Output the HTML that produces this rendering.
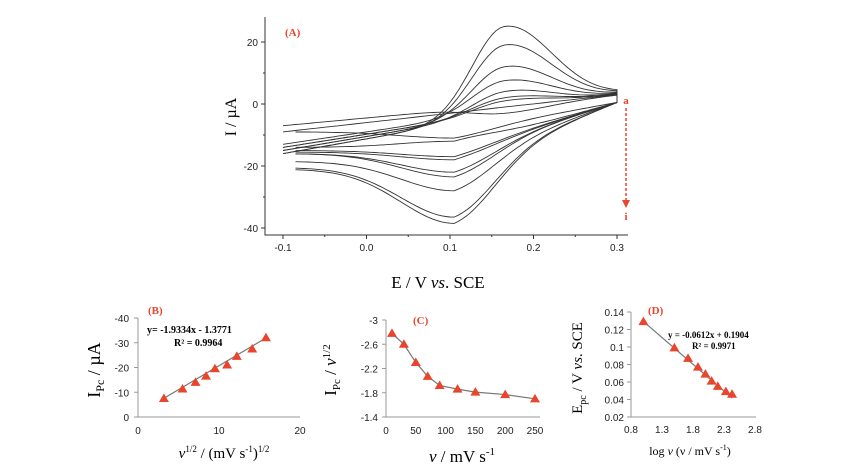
<!DOCTYPE html>
<html><head><meta charset="utf-8">
<style>
body{margin:0;background:#fff;}
svg{display:block;font-family:"Liberation Sans",sans-serif;}
.tk{font-size:10px;fill:#222;}
.ser{font-family:"Liberation Serif",serif;}
.lab{font-family:"Liberation Serif",serif;fill:#e8452c;font-weight:bold;font-size:11px;}
</style></head><body>
<svg id="fig" width="868" height="472" viewBox="0 0 868 472">
<g id="panelA"></g>
<g id="panelB"></g>
<g id="panelC"></g>
<g id="panelD"></g>
</svg>
<script>
// Panel A data (9 CVs, a..i)
var cvAnodicPeak=[25,19,12,7.5,4,2,1,-1,-3];
var cvCathodicPeak=[-38.5,-36.5,-28,-23.5,-22,-18,-17,-12,-11];
var cvUpperStart=[-16,-16,-15,-13,-15,-14,-14,-9,-7];
var cvLowerStart=[-21,-20.5,-18.5,-16,-16,-15.5,-15,-14,-9];
var aXTicks=[-0.1,0.0,0.1,0.2,0.3];
var aYTicks=[20,0,-20,-40];
// Panel B
var bX=[3.2,5.5,7.1,8.4,9.5,11,12.2,14.1,15.8];
var bY=[7.5,11.3,14,16.5,19.5,21,24.5,27.5,32];
var bXTicks=[0,10,20]; var bYTicks=[0,10,20,30,40];
// Panel C
var cX=[10,30,50,70,90,120,150,200,250];
var cY=[-2.78,-2.6,-2.3,-2.07,-1.92,-1.86,-1.81,-1.77,-1.7];
var cXTicks=[0,50,100,150,200,250]; var cYTicks=[-3,-2.6,-2.2,-1.8,-1.4];
// Panel D
var dX=[1.0,1.5,1.72,1.88,2.0,2.1,2.2,2.33,2.43];
var dY=[0.129,0.099,0.087,0.077,0.069,0.061,0.055,0.049,0.046];
var dXTicks=[0.8,1.3,1.8,2.3,2.8]; var dYTicks=[0.02,0.04,0.06,0.08,0.1,0.12,0.14];

var NS="http://www.w3.org/2000/svg";
function mk(p,t,a,txt){var e=document.createElementNS(NS,t);for(var k in a){e.setAttribute(k,String(a[k]));}if(txt!==undefined){e.textContent=String(txt);}p.appendChild(e);return e;}
function lin(d0,d1,r0,r1){return function(v){return r0+(v-d0)/(d1-d0)*(r1-r0);};}
function rich(p,a,parts){var t=mk(p,'text',a);for(var i=0;i<parts.length;i++){mk(t,'tspan',parts[i][1]||{},parts[i][0]);}return t;}
function tri(g,cx,cy){var p=mk(g,'path',{d:'M'+cx+','+(cy-5)+'L'+(cx+5)+','+(cy+3.5)+'L'+(cx-5)+','+(cy+3.5)+'Z',fill:'#e8452c'});
 
 }
function axes(g,l,b,r,t){mk(g,'path',{d:'M'+l+','+t+'V'+b+'H'+r,fill:'none',stroke:'#999','stroke-width':1});}

// ---------- Panel A ----------
try{(function(){
var g=document.getElementById('panelA');
var x=lin(-0.1,0.3,283,617), y=lin(0,20,104,42);
mk(g,'path',{d:'M265,17V235H628',fill:'none',stroke:'#333','stroke-width':1});
aXTicks.forEach(function(v){mk(g,'line',{x1:x(v),x2:x(v),y1:235,y2:239,stroke:'#333'});
 var t=mk(g,'text',{x:x(v),y:251,'text-anchor':'middle','class':'tk'},v.toFixed(1));
 
 });
[-0.05,0.05,0.15,0.25].forEach(function(v){mk(g,'line',{x1:x(v),x2:x(v),y1:235,y2:237,stroke:'#333'});});
aYTicks.forEach(function(v){mk(g,'line',{x1:261,x2:265,y1:y(v),y2:y(v),stroke:'#333'});
 var t=mk(g,'text',{x:258,y:y(v)+4,'text-anchor':'end','class':'tk'},v);
 
 });
[10,-10,-30].forEach(function(v){mk(g,'line',{x1:263,x2:265,y1:y(v),y2:y(v),stroke:'#333'});});
var ep=0.165, ec=0.105;
function sa(d){return d<0?Math.exp(-(d/0.055)*(d/0.055)):Math.exp(-(d/0.08)*(d/0.08));}
function sc(d){return d<0?Math.exp(-(d/0.09)*(d/0.09)):Math.exp(-(d/0.07)*(d/0.07));}
cvAnodicPeak.forEach(function(pk,i){
 var bu=function(E){return cvUpperStart[i]+(E+0.1)/0.4*(3-cvUpperStart[i]);};
 var s0=cvLowerStart[i];
 var bl=function(E){return E<ec? s0 : s0+(E-ec)/(0.3-ec)*(0.5-s0);};
 var ia=pk-bu(ep), ic=cvCathodicPeak[i]-bl(ec);
 var d='', E;
 for(E=-0.1;E<=0.3001;E+=0.005){d+=(d?'L':'M')+x(E).toFixed(1)+','+y(bu(E)+ia*sa(E-ep)).toFixed(1);}
 for(E=0.3;E>=-0.0899;E-=0.005){d+='L'+x(E).toFixed(1)+','+y(bl(E)+ic*sc(E-ec)).toFixed(1);}
 var p=mk(g,'path',{d:d,fill:'none',stroke:'#333','stroke-width':0.9});
 
 
});
mk(g,'text',{x:285,y:36,'class':'lab'},'(A)');
mk(g,'line',{x1:626,y1:108,x2:626,y2:200,stroke:'#e8452c','stroke-width':1.5,'stroke-dasharray':'3,2'});
mk(g,'path',{d:'M622,200L630,200L626,208Z',fill:'#e8452c'});
mk(g,'text',{x:626,y:104,'text-anchor':'middle','class':'lab'},'a');
mk(g,'text',{x:626,y:220,'text-anchor':'middle','class':'lab'},'i');
mk(g,'text',{transform:'translate(236,117) rotate(-90)','font-size':16,'class':'ser','text-anchor':'middle'},'I / µA');
rich(g,{x:438,y:288,'font-size':17,'class':'ser','text-anchor':'middle'},[['E / V '],['vs',{'font-style':'italic'}],['. SCE']]);
})();}catch(e){}

// ---------- Panel B ----------
try{(function(){
var g=document.getElementById('panelB');
var x=lin(0,20,138,300), y=lin(0,40,417,318);
axes(g,138,417,300,318);
bXTicks.forEach(function(v){mk(g,'text',{x:x(v),y:434,'text-anchor':'middle','class':'tk'},v);});
bYTicks.forEach(function(v){mk(g,'line',{x1:134,x2:138,y1:y(v),y2:y(v),stroke:'#999'});mk(g,'text',{x:129,y:y(v)+4,'text-anchor':'end','class':'tk'},v?('-'+v):'0');});
var f=function(v){return 1.9334*v+1.3771;};
mk(g,'line',{x1:x(bX[0]),y1:y(f(bX[0])),x2:x(bX[bX.length-1]),y2:y(f(bX[bX.length-1])),stroke:'#777','stroke-width':1.2});
bX.forEach(function(v,i){tri(g,x(v),y(bY[i]));});
mk(g,'text',{x:148,y:314,'class':'lab'},'(B)');
mk(g,'text',{x:147,y:333,'font-size':10,'font-weight':'bold','class':'ser'},'y= -1.9334x - 1.3771');
mk(g,'text',{x:174,y:346,'font-size':10,'font-weight':'bold','class':'ser'},'R² = 0.9964');
rich(g,{transform:'translate(100,370) rotate(-90)','font-size':18,'class':'ser','text-anchor':'middle'},[['I'],['Pc',{'font-size':12,dy:4}],[' / µA',{dy:-4}]]);
rich(g,{x:224,y:458,'font-size':15,'class':'ser','text-anchor':'middle'},[['ν',{'font-style':'italic'}],['1/2',{'font-size':9,dy:-6}],[' / (mV  s',{dy:6}],['-1',{'font-size':9,dy:-6}],[')',{dy:6}],['1/2',{'font-size':9,dy:-6}]]);
})();}catch(e){}

// ---------- Panel C ----------
try{(function(){
var g=document.getElementById('panelC');
var x=lin(0,250,386,535), y=lin(-1.4,-3,417,320);
axes(g,386,417,540,320);
cXTicks.forEach(function(v){mk(g,'text',{x:x(v),y:434,'text-anchor':'middle','class':'tk'},v);});
cYTicks.forEach(function(v){mk(g,'line',{x1:382,x2:386,y1:y(v),y2:y(v),stroke:'#999'});mk(g,'text',{x:378,y:y(v)+4,'text-anchor':'end','class':'tk'},v);});
var d='';cX.forEach(function(v,i){d+=(i?'L':'M')+x(v)+','+y(cY[i]);});
mk(g,'path',{d:d,fill:'none',stroke:'#777','stroke-width':1.2});
cX.forEach(function(v,i){tri(g,x(v),y(cY[i]));});
mk(g,'text',{x:413,y:324,'class':'lab'},'(C)');
rich(g,{transform:'translate(336,370) rotate(-90)','font-size':17,'class':'ser','text-anchor':'middle'},[['I'],['Pc',{'font-size':11,dy:4}],[' / ',{dy:-4}],['ν',{'font-style':'italic'}],['1/2',{'font-size':11,dy:-6}]]);
rich(g,{x:462,y:462,'font-size':17,'class':'ser','text-anchor':'middle'},[['ν',{'font-style':'italic'}],[' / mV  s'],['-1',{'font-size':11,dy:-7}]]);
})();}catch(e){}

// ---------- Panel D ----------
try{(function(){
var g=document.getElementById('panelD');
var x=lin(0.8,2.8,631,755), y=lin(0.02,0.14,417,312);
axes(g,631,417,756,312);
dXTicks.forEach(function(v){mk(g,'text',{x:x(v),y:433,'text-anchor':'middle','class':'tk'},v.toFixed(1));});
dYTicks.forEach(function(v){mk(g,'line',{x1:627,x2:631,y1:y(v),y2:y(v),stroke:'#999'});mk(g,'text',{x:624,y:y(v)+4,'text-anchor':'end','class':'tk'},String(+v.toFixed(2)));});
var f=function(v){return -0.0612*v+0.1904;};
mk(g,'line',{x1:x(dX[0]),y1:y(f(dX[0])),x2:x(dX[dX.length-1]),y2:y(f(dX[dX.length-1])),stroke:'#777','stroke-width':1.2});
dX.forEach(function(v,i){tri(g,x(v),y(dY[i]));});
mk(g,'text',{x:648,y:314,'class':'lab'},'(D)');
mk(g,'text',{x:668,y:338,'font-size':9,'font-weight':'bold','class':'ser'},'y = -0.0612x + 0.1904');
mk(g,'text',{x:692,y:349,'font-size':9,'font-weight':'bold','class':'ser'},'R² = 0.9971');
rich(g,{transform:'translate(582,368) rotate(-90)','font-size':15,'class':'ser','text-anchor':'middle'},[['E'],['pc',{'font-size':10,dy:4}],[' / V ',{dy:-4}],['vs',{'font-style':'italic'}],['. SCE']]);
rich(g,{x:690,y:455,'font-size':12,'class':'ser','text-anchor':'middle'},[['log '],['ν',{'font-style':'italic'}],[' (ν / mV s'],['-1',{'font-size':8,dy:-5}],[')',{dy:5}]]);
})();}catch(e){}
</script>
</body></html>
